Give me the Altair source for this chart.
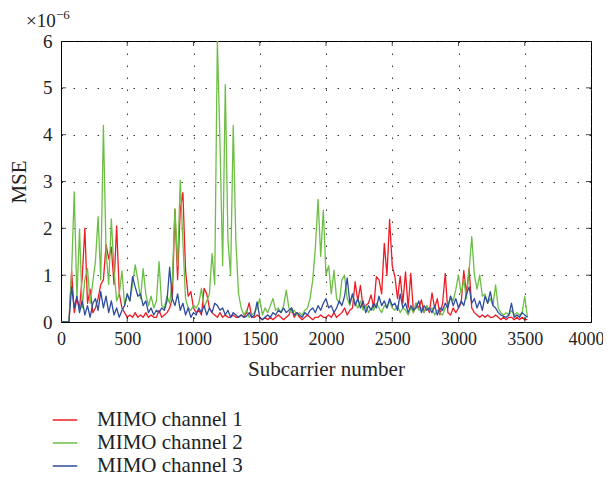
import altair as alt
import pandas as pd

# ---------------- data (MSE in units of 1e-6) ----------------
subcarrier = list(range(0, 3521, 20))

ch1 = [0, 0, 0, 0, 1.09, 0.2, 0.5, 0.3, 0.95, 2.0,
       0.4, 0.7, 0.2, 0.3, 0.5, 0.8, 0.9, 1.65, 1.35, 1.6,
       0.8, 2.05, 0.61, 0.3, 0.2, 0.1, 0.15, 0.1, 0.2, 0.1,
       0.15, 0.1, 0.2, 0.1, 0.15, 0.1, 0.1, 0.25, 0.1, 0.15,
       0.2, 0.3, 0.5, 2.4, 0.9, 2.4, 2.76, 1.1, 0.55, 0.65,
       0.3, 0.2, 0.25, 0.15, 0.72, 0.6, 0.3, 0.2, 0.15, 0.1,
       0.2, 0.1, 0.15, 0.1, 0.1, 0.15, 0.1, 0.1, 0.15, 0.1,
       0.2, 0.41, 0.1, 0.1, 0.15, 0.1, 0.05, 0.1, 0.05, 0.1,
       0.05, 0.1, 0.15, 0.1, 0.05, 0.1, 0.15, 0.3, 0.1, 0.2,
       0.1, 0.05, 0.1, 0.15, 0.1, 0.05, 0.1, 0.1, 0.15, 0.1,
       0.1, 0.15, 0.1, 0.2, 0.1, 0.15, 0.2, 0.3, 0.15, 0.25,
       0.3, 0.86, 0.45, 0.78, 0.3, 0.35, 0.4, 0.58, 0.3, 0.97,
       0.9, 0.6, 1.68, 1.0, 2.19, 1.2, 0.97, 0.5, 0.98, 0.4,
       1.07, 0.3, 1.04, 0.2, 0.4, 0.3, 0.47, 0.2, 0.35, 0.2,
       0.62, 0.3, 0.5, 0.15, 0.4, 1.04, 0.2, 0.15, 0.3, 0.2,
       0.3, 0.4, 1.1, 0.6, 1.15, 0.3, 0.2, 0.15, 0.1, 0.15,
       0.1, 0.15, 0.1, 0.1, 0.15, 0.1, 0.05, 0.1, 0.05, 0.1,
       0.1, 0.05, 0.1, 0.05, 0.1, 0.05, 0.05]

ch2 = [0, 0, 0, 0, 1.05, 2.78, 0.5, 1.98, 0.3, 0.9,
       1.14, 0.4, 0.85, 1.3, 2.25, 0.9, 4.2, 1.5, 0.8, 2.2,
       1.1, 0.45, 0.6, 1.09, 0.35, 0.6, 0.45, 0.8, 1.22, 0.9,
       0.5, 1.14, 0.6, 0.35, 0.55, 0.3, 0.45, 1.29, 0.35, 0.3,
       0.55, 0.4, 0.9, 2.42, 1.2, 3.03, 1.7, 0.5, 0.3, 0.25,
       0.35, 0.3, 0.4, 0.72, 0.3, 0.45, 0.6, 1.46, 0.8, 6.0,
       3.81, 1.2, 5.07, 1.75, 1.0, 4.2, 1.71, 0.6, 0.3, 0.15,
       0.25, 0.1, 0.15, 0.2, 0.3, 0.5, 0.15, 0.3, 0.2, 0.35,
       0.5, 0.25, 0.3, 0.2, 0.35, 0.68, 0.3, 0.2, 0.25, 0.15,
       0.2, 0.15, 0.25, 0.3, 0.5, 0.9, 1.6, 2.62, 1.4, 2.39,
       1.0, 1.2, 0.6, 1.1, 0.5, 0.4, 0.9, 1.0, 0.5, 0.35,
       0.6, 0.4, 0.3, 0.45, 0.25, 0.35, 0.2, 0.3, 0.25, 0.4,
       0.3, 0.2, 0.35, 0.3, 0.45, 0.3, 0.25, 0.35, 0.2, 0.3,
       0.25, 0.15, 0.3, 0.2, 0.4, 0.25, 0.3, 0.2, 0.35, 0.25,
       0.3, 0.15, 0.25, 0.2, 0.15, 0.3, 0.35, 0.55, 0.45, 0.7,
       1.0, 0.6, 0.9, 0.5, 1.1, 1.82, 1.0, 0.7, 1.0, 0.55,
       0.6, 0.4, 0.5, 0.35, 0.79, 0.3, 0.2, 0.15, 0.2, 0.15,
       0.25, 0.15, 0.2, 0.15, 0.2, 0.55, 0.1]

ch3 = [0, 0, 0, 0, 0.75, 0.3, 0.55, 0.2, 0.45, 0.15,
       0.35, 0.1, 0.4, 0.5, 0.25, 0.65, 0.3, 0.55, 0.2, 0.45,
       0.15, 0.3, 0.1, 0.25, 0.35, 0.6, 0.45, 0.97, 0.75, 0.55,
       0.6, 0.35, 0.45, 0.2, 0.3, 0.15, 0.25, 0.2, 0.3, 0.25,
       0.45, 1.17, 0.5, 0.35, 0.6, 0.25, 0.4, 0.15, 0.3, 0.1,
       0.2, 0.15, 0.3, 0.2, 0.35, 0.15, 0.3, 0.2, 0.4, 0.35,
       0.25, 0.3, 0.15, 0.25, 0.1, 0.2, 0.15, 0.1, 0.15, 0.1,
       0.12, 0.2, 0.1, 0.15, 0.43, 0.1, 0.05, 0.1, 0.15, 0.1,
       0.2, 0.15, 0.25, 0.2, 0.3, 0.2, 0.25, 0.3, 0.15, 0.2,
       0.15, 0.1, 0.2, 0.15, 0.25, 0.3, 0.2, 0.35, 0.25, 0.4,
       0.5, 0.3, 0.35, 0.2, 0.3, 0.45, 0.35, 0.55, 0.94, 0.4,
       0.6, 0.35, 0.5, 0.3, 0.45, 0.2, 0.35, 0.25, 0.4, 0.3,
       0.55, 0.35, 0.45, 0.3, 0.5, 0.35, 0.4, 0.25, 0.6, 0.3,
       0.4, 0.2, 0.35, 0.25, 0.3, 0.45, 0.2, 0.35, 0.25, 0.3,
       0.2, 0.35, 0.15, 0.3, 0.25, 0.4, 0.3, 0.55, 0.35, 0.5,
       0.3, 0.45, 0.35, 0.6, 0.75, 0.4, 0.5, 0.3, 0.45, 0.25,
       0.55, 0.4, 0.65, 0.35, 0.3, 0.2, 0.15, 0.12, 0.1, 0.15,
       0.4, 0.1, 0.15, 0.1, 0.2, 0.15, 0.1]

names = ["MIMO channel 1", "MIMO channel 2", "MIMO channel 3"]
colors = ["#ED1C24", "#6DBE45", "#2E4D9F"]
x_ticks = [0, 500, 1000, 1500, 2000, 2500, 3000, 3500, 4000]
y_ticks = [0, 1, 2, 3, 4, 5, 6]
inner_x_ticks = x_ticks[1:-1]
inner_y_ticks = y_ticks[1:-1]

rows = []
for name, series in zip(names, [ch1, ch2, ch3]):
    for sc, v in zip(subcarrier, series):
        rows.append({"sc": sc, "mse": v, "channel": name})
df = pd.DataFrame(rows)

FONT = "Liberation Serif"
W, H = 530, 281

xscale = alt.Scale(domain=[0, 4000], nice=False, zero=False)
yscale = alt.Scale(domain=[0, 6], nice=False)
cscale = alt.Scale(domain=names, range=colors)

x_axis = alt.Axis(values=x_ticks, format="d", title="Subcarrier number",
                  grid=True, tickSize=0, labelPadding=8, titlePadding=10,
                  labelFlush=False, labelOverlap=False,
                  labelOffset={"condition": {"test": "datum.value == 4000", "value": -5},
                               "value": 0},
                  labelFontSize=18, titleFontSize=21, labelFont=FONT,
                  titleFont=FONT, titleFontWeight="normal",
                  labelColor="#222", titleColor="#222",
                  domainColor="black", gridColor="#222", gridDash=[1.5, 10.5],
                  gridOpacity=0.9)
y_axis = alt.Axis(values=y_ticks, format="d", title="MSE",
                  grid=True, tickSize=0, labelPadding=9, titlePadding=13,
                  labelFlush=False, labelOverlap=False,
                  labelFontSize=19, titleFontSize=21, labelFont=FONT,
                  titleFont=FONT, titleFontWeight="normal",
                  labelColor="#222", titleColor="#222",
                  domainColor="black", gridColor="#222", gridDash=[1.5, 10.5],
                  gridOpacity=0.9)
x_enc = alt.X("sc:Q", scale=xscale, axis=x_axis)
y_enc = alt.Y("mse:Q", scale=yscale, axis=y_axis)

legend = alt.Legend(title=None, orient="none", legendX=-9, legendY=366,
                    direction="vertical", symbolType="stroke", symbolSize=600,
                    symbolStrokeWidth=1.5, labelFont=FONT, labelFontSize=21,
                    labelColor="#222", labelOffset=19, rowPadding=0)

base = alt.Chart(df)
layers = []
for i, name in enumerate(names):
    layers.append(
        base.transform_filter(alt.datum.channel == name)
        .mark_line(strokeWidth=1.3, strokeJoin="round", clip=True)
        .encode(x=x_enc, y=y_enc,
                color=alt.Color("channel:N", scale=cscale, legend=legend))
    )

xt = pd.DataFrame({"sc": inner_x_ticks})
yt = pd.DataFrame({"mse": inner_y_ticks})
tick_style = dict(color="black", thickness=1, size=5)
ticks_bottom = alt.Chart(xt).mark_tick(**tick_style).encode(
    x=x_enc, y=alt.value(H - 2.5))
ticks_top = alt.Chart(xt).mark_tick(**tick_style).encode(
    x=x_enc, y=alt.value(2.5))
ticks_left = alt.Chart(yt).mark_tick(**tick_style).encode(
    y=y_enc, x=alt.value(2.5))
ticks_right = alt.Chart(yt).mark_tick(**tick_style).encode(
    y=y_enc, x=alt.value(W - 2.5))

exp_df = pd.DataFrame({"t": ["×10"]})
exp_base = alt.Chart(exp_df).mark_text(font=FONT, fontSize=19, align="left",
                                       baseline="alphabetic", color="#222").encode(
    text="t:N", x=alt.value(-35), y=alt.value(-14))
exp_pow_df = pd.DataFrame({"t": ["−6"]})
exp_pow = alt.Chart(exp_pow_df).mark_text(font=FONT, fontSize=13, align="left",
                                          baseline="alphabetic", color="#222").encode(
    text="t:N", x=alt.value(-5), y=alt.value(-22))

chart = alt.layer(*layers, ticks_bottom, ticks_top, ticks_left, ticks_right,
                  exp_base, exp_pow).properties(
    width=W, height=H,
    autosize=alt.AutoSizeParams(type="none"),
    padding={"left": 53, "top": 33, "right": 12, "bottom": 160},
    background="white",
).configure_view(stroke="black", strokeWidth=1)

chart.save("out.html", embed_options={"renderer": "svg", "actions": False})
